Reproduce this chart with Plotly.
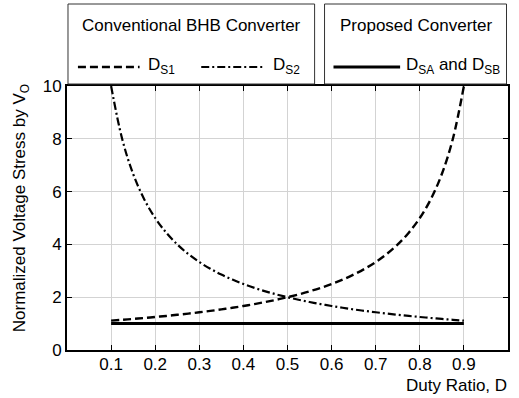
import plotly.graph_objects as go

# ---- data ----
duty = [0.100, 0.125, 0.150, 0.175, 0.200, 0.225, 0.250, 0.275, 0.300, 0.325,
        0.350, 0.375, 0.400, 0.425, 0.450, 0.475, 0.500, 0.525, 0.550, 0.575,
        0.600, 0.625, 0.650, 0.675, 0.700, 0.725, 0.750, 0.775, 0.800, 0.825,
        0.850, 0.875, 0.900]
ds1 = [1.111, 1.143, 1.176, 1.212, 1.250, 1.290, 1.333, 1.379, 1.429, 1.481,
       1.538, 1.600, 1.667, 1.739, 1.818, 1.905, 2.000, 2.105, 2.222, 2.353,
       2.500, 2.667, 2.857, 3.077, 3.333, 3.636, 4.000, 4.444, 5.000, 5.714,
       6.667, 8.000, 10.00]
ds2 = [10.00, 8.000, 6.667, 5.714, 5.000, 4.444, 4.000, 3.636, 3.333, 3.077,
       2.857, 2.667, 2.500, 2.353, 2.222, 2.105, 2.000, 1.905, 1.818, 1.739,
       1.667, 1.600, 1.538, 1.481, 1.429, 1.379, 1.333, 1.290, 1.250, 1.212,
       1.176, 1.143, 1.111]
dsab = [1.0] * len(duty)
x_ticks = [0.1, 0.2, 0.3, 0.4, 0.5, 0.6, 0.7, 0.8, 0.9]
y_ticks = [0, 2, 4, 6, 8, 10]

W, H = 519, 398
L, R, T, B = 67, 510.5, 86, 350
FONT = "Liberation Sans, Arial, sans-serif"
FS = 17

def px(x):
    return (x - L) / (R - L)

def py(y):
    return (B - y) / (B - T)

fig = go.Figure()
fig.add_trace(go.Scatter(x=duty, y=ds2, mode="lines", line_shape="spline",
                         line=dict(color="black", width=2.2, dash="8px,3px,2px,3px")))
fig.add_trace(go.Scatter(x=duty, y=ds1, mode="lines", line_shape="spline",
                         line=dict(color="black", width=2.4, dash="8px,4px")))
fig.add_trace(go.Scatter(x=duty, y=dsab, mode="lines",
                         line=dict(color="black", width=3)))

shapes = []
# legend boxes
for x0, x1 in [(68, 316), (326, 509)]:
    shapes.append(dict(type="rect", xref="paper", yref="paper",
                       x0=px(x0), x1=px(x1), y0=py(84), y1=py(4),
                       line=dict(color="#333333", width=1), fillcolor="white"))
# legend samples
yl = 67
shapes.append(dict(type="line", xref="paper", yref="paper", x0=px(78), x1=px(140),
                   y0=py(yl), y1=py(yl), line=dict(color="black", width=2.4, dash="8px,4px")))
shapes.append(dict(type="line", xref="paper", yref="paper", x0=px(202), x1=px(266),
                   y0=py(yl), y1=py(yl), line=dict(color="black", width=2.2, dash="8px,3px,2px,3px")))
shapes.append(dict(type="line", xref="paper", yref="paper", x0=px(335), x1=px(402),
                   y0=py(yl), y1=py(yl), line=dict(color="black", width=3)))

ann = []
def txt(x, y, s, xa="left", ya="middle", angle=0):
    ann.append(dict(x=px(x), y=py(y), xref="paper", yref="paper", text=s,
                    showarrow=False, xanchor=xa, yanchor=ya, textangle=angle,
                    font=dict(family=FONT, size=FS, color="black")))

txt(192, 25, "Conventional BHB Converter", xa="center")
txt(417.5, 25, "Proposed Converter", xa="center")
txt(146, yl - 1, "D<sub>S1</sub>")
txt(272, yl - 1, "D<sub>S2</sub>")
txt(406, yl - 1, "D<sub>SA</sub> and D<sub>SB</sub>")
txt(512, 386, "Duty Ratio, D", xa="right")
txt(21, 208, "Normalized Voltage Stress by V<sub>O</sub>", xa="center", angle=-90)

fig.update_layout(
    width=W, height=H,
    margin=dict(l=L, r=W - R, t=T, b=H - B),
    paper_bgcolor="white", plot_bgcolor="white",
    showlegend=False,
    font=dict(family=FONT, size=FS, color="black"),
    shapes=shapes, annotations=ann,
)
fig.update_xaxes(range=[0, 1], tickvals=x_ticks, ticktext=[str(v) for v in x_ticks],
                 showgrid=True, gridcolor="#d3d3d3", gridwidth=1,
                 showline=True, linecolor="black", linewidth=2, mirror="allticks",
                 ticks="inside", ticklen=5, tickcolor="black", zeroline=False,
                 ticklabelstandoff=-2, tickfont=dict(size=FS))
fig.update_yaxes(range=[0, 10], tickvals=y_ticks,
                 showgrid=True, gridcolor="#d3d3d3", gridwidth=1,
                 showline=True, linecolor="black", linewidth=2, mirror="allticks",
                 ticks="inside", ticklen=5, tickcolor="black", zeroline=False,
                 tickfont=dict(size=FS))

fig.write_html("out.html")
